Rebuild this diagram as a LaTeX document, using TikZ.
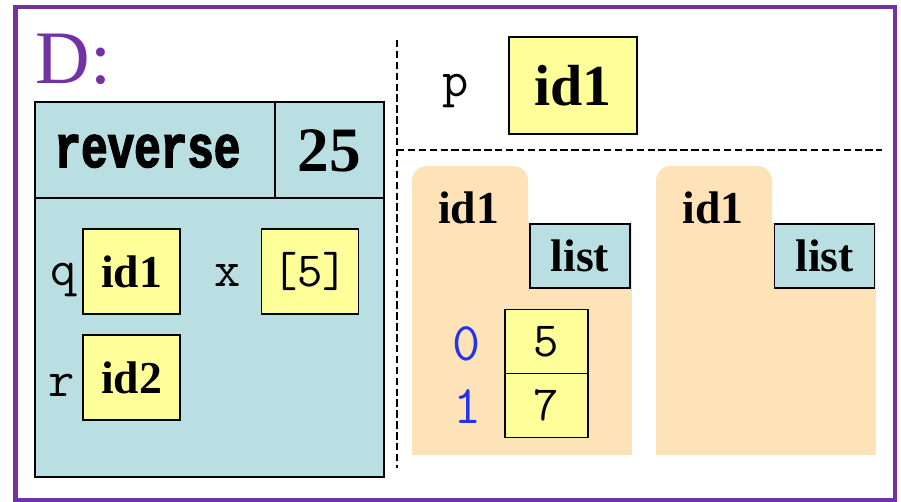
\documentclass[tikz,border=0pt]{standalone}
\usepackage{fontspec}
\setmainfont{Liberation Serif}
\newfontfamily\headfont[FakeStretch = 0.74, BoldFeatures = {FakeBold = 2.5}]{Liberation Mono}

\definecolor{framepurple}{HTML}{7232A2}
\definecolor{framecyan}{HTML}{B9DFE3}
\definecolor{boxyellow}{HTML}{FFFF99}
\definecolor{folderpeach}{HTML}{FFE3B8}
\definecolor{indexblue}{HTML}{2233EE}

\begin{document}
\begin{tikzpicture}[x = 0.02cm, y = -0.02cm, line width = 1.1pt,
                        idbox/.style = {draw, fill = boxyellow, inner sep = 0pt, minimum width = 1.94cm, minimum height = 1.7cm,
                                        font = \fontsize{26}{26}\selectfont\bfseries},
                        cell/.style = {draw, fill = boxyellow, inner sep = 0pt, minimum width = 1.66cm, minimum height = 1.28cm,
                                       font = \fontsize{28}{28}\selectfont\ttfamily},
                        tag/.style = {draw, fill = framecyan, inner sep = 0pt, minimum width = 2cm, minimum height = 1.28cm,
                                      font = \fontsize{26}{26}\selectfont\bfseries},
                        vname/.style = {anchor = base, inner sep = 0pt, font = \fontsize{29}{29}\selectfont\ttfamily},
                        index/.style = {vname, text = indexblue, font = \fontsize{31}{31}\selectfont\ttfamily},
                        folder/.style = {fill = folderpeach},
                        sep/.style = {dash pattern = on 4.2pt off 2pt}]
      \useasboundingbox (0, 0) rectangle (901, 501);
      \draw [framepurple, line width = 2.8pt] (15.5, 7) rectangle (895, 500);
      \node [anchor = base west, inner sep = 0pt, text = framepurple, font = \fontsize{43}{43}\selectfont] (dlabel) at (35, 83) {D:};

      % call frame
      \draw [fill = framecyan] (35, 102) rectangle (384, 477);
      \draw (35, 198) -- (384, 198);
      \draw (275, 102) -- (275, 198);
      \node [vname, font = \fontsize{34}{34}\selectfont\headfont\bfseries] (fname) at (147.5, 167) {reverse};
      \node [vname, font = \fontsize{36}{36}\selectfont\bfseries] (fline) at (329, 171) {25};
      \node [idbox] (q) at (131.5, 271.5) {id1};
      \node [idbox, font = \fontsize{28}{28}\selectfont\ttfamily] (x) at (310, 271.5) {[5]};
      \node [idbox] (r) at (131.5, 377.5) {id2};
      \node [vname] (qname) at (64, 285) {q};
      \node [vname] (xname) at (228, 286) {x};
      \node [vname] (rname) at (62, 396) {r};

      % global space
      \draw [sep] (397, 40) -- (397, 468);
      \draw [sep] (397, 150) -- (882, 150);
      \node [idbox, minimum width = 2.56cm, minimum height = 1.94cm, font = \fontsize{33}{33}\selectfont\bfseries] (p) at (573, 85.5) {id1};
      \node [vname] (pname) at (456, 96) {p};

      % heap folders
      \fill [folder, rounded corners = 0.3cm] (412, 166) rectangle (528, 260);
      \fill [folder] (412, 223) rectangle (632, 455);
      \node [vname, font = \fontsize{26}{26}\selectfont\bfseries] (idone) at (468.5, 223) {id1};
      \node [tag] (listone) at (580, 256) {list};
      \node [cell] (c0) at (546.5, 341.5) {5};
      \node [cell] (c1) at (546.5, 405.5) {7};
      \node [index] (i0) at (466.5, 360) {0};
      \node [index] (i1) at (468, 423) {1};

      \fill [folder, rounded corners = 0.3cm] (656, 166) rectangle (772, 260);
      \fill [folder] (656, 223) rectangle (876, 455);
      \node [vname, font = \fontsize{26}{26}\selectfont\bfseries] (idtwo) at (713, 223) {id1};
      \node [tag] (listtwo) at (824.5, 256) {list};
    \end{tikzpicture}
\end{document}
